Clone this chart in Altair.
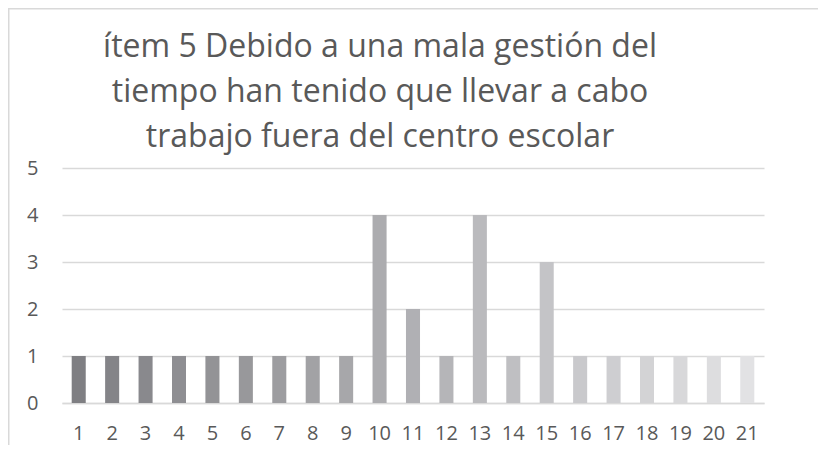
import altair as alt
import pandas as pd

categories = [str(i) for i in range(1, 22)]
values = [1, 1, 1, 1, 1, 1, 1, 1, 1, 4, 2, 1, 4, 1, 3, 1, 1, 1, 1, 1, 1]
title_lines = [
    "ítem 5 Debido a una mala gestión del",
    "tiempo han tenido que llevar a cabo",
    "trabajo fuera del centro escolar",
]

# gray shades from dark to light (style)
start = (0x7F, 0x7F, 0x83)
end = (0xE2, 0xE2, 0xE4)
n = len(categories)
colors = []
for i in range(n):
    t = i / (n - 1)
    c = tuple(round(s + (e - s) * t) for s, e in zip(start, end))
    colors.append("#%02x%02x%02x" % c)

df = pd.DataFrame({"cat": categories, "val": values})

FONT = "Open Sans"
TXT = "#595959"
GRID = "#d9d9d9"

bars = alt.Chart(df).mark_bar().encode(
    x=alt.X("cat:N", sort=categories,
            scale=alt.Scale(paddingInner=0.58, paddingOuter=0.29),
            axis=alt.Axis(title=None, labelAngle=0, ticks=False, domain=True,
                          domainColor=GRID, domainWidth=1.5,
                          labelFont=FONT, labelFontSize=20, labelColor=TXT,
                          labelPadding=20)),
    y=alt.Y("val:Q", scale=alt.Scale(domain=[0, 5]),
            axis=alt.Axis(title=None, values=[0, 1, 2, 3, 4, 5], ticks=False,
                          domain=False, grid=True, gridColor=GRID, gridWidth=1.5,
                          labelFont=FONT, labelFontSize=20, labelColor=TXT,
                          labelPadding=24)),
    color=alt.Color("cat:N", sort=categories,
                    scale=alt.Scale(domain=categories, range=colors), legend=None),
)

one = pd.DataFrame({"a": [0]})
top_border = alt.Chart(one).mark_rule(color=GRID, strokeWidth=1.5).encode(
    x=alt.value(-54), x2=alt.value(760), y=alt.value(-159.25))
left_border = alt.Chart(one).mark_rule(color=GRID, strokeWidth=1.5).encode(
    x=alt.value(-53.25), y=alt.value(-160), y2=alt.value(300))
title = alt.Chart(one).mark_text(
    text=title_lines, font=FONT, fontSize=32, color=TXT, lineHeight=45,
    align="center", baseline="alphabetic",
).encode(x=alt.value(318), y=alt.value(-111.3))

chart = alt.layer(top_border, left_border, title, bars).properties(
    width=702, height=235,
    autosize=alt.AutoSizeParams(type="none"),
    padding={"left": 54, "top": 160, "right": 54, "bottom": 42},
).configure_view(stroke=None)

chart.save("out.html", embed_options={"renderer": "svg", "actions": False})
